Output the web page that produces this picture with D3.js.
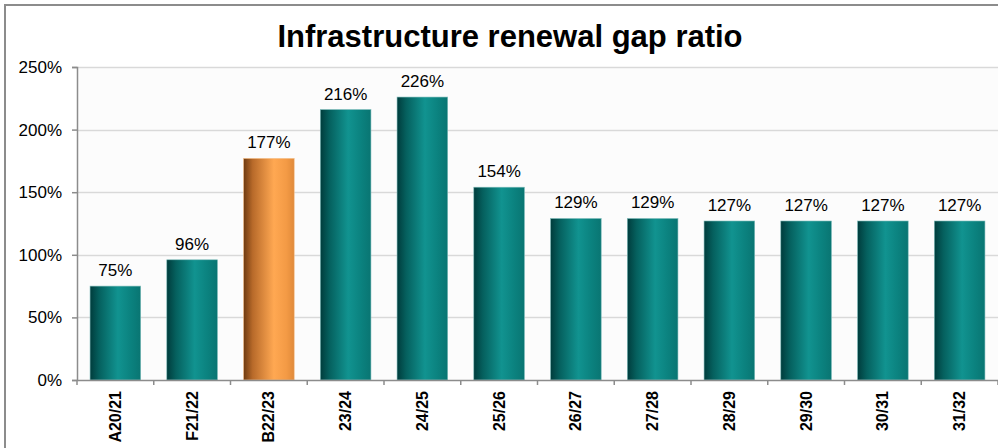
<!DOCTYPE html>
<html><head><meta charset="utf-8">
<script src="https://cdn.jsdelivr.net/npm/d3@7"></script>
<style>body{margin:0;background:#fff;}svg{display:block;font-family:"Liberation Sans",Arial,sans-serif;}</style>
</head><body>
<svg id="c" width="998" height="448"></svg>
<script>
const categories = ["A20/21","F21/22","B22/23","23/24","24/25","25/26","26/27","27/28","28/29","29/30","30/31","31/32"];
const values = [75,96,177,216,226,154,129,129,127,127,127,127];
const highlight = ["B22/23"];
const yTicks = [0,50,100,150,200,250];
const title = "Infrastructure renewal gap ratio";

const svg = d3.select("#c");
const m = {left:77, top:67, right:998, bottom:380};
const x = d3.scaleBand().domain(categories).range([m.left, m.right]).paddingInner(0.34).paddingOuter(0.17);
const y = d3.scaleLinear().domain([0,250]).range([m.bottom, m.top]);

const defs = svg.append("defs");
function grad(id, stops){
  const g = defs.append("linearGradient").attr("id",id).attr("x1","0").attr("x2","1").attr("y1","0").attr("y2","0");
  stops.forEach(s=>g.append("stop").attr("offset",s[0]).attr("stop-color",s[1]));
}
grad("gTeal", [[0,"#003c3c"],[0.18,"#05605e"],[0.55,"#119390"],[0.8,"#0b827f"],[1,"#097572"]]);
grad("gOrange", [[0,"#6e3a10"],[0.18,"#b86a2a"],[0.6,"#ffa852"],[0.85,"#f39a45"],[1,"#e08a3a"]]);

// outer frame
svg.append("rect").attr("x",5).attr("y",5).attr("width",1010).attr("height",460)
  .attr("fill","#fff").attr("stroke","#8c8c8c").attr("stroke-width",2);

// plot bg
svg.append("rect").attr("x",m.left).attr("y",m.top).attr("width",m.right-m.left).attr("height",m.bottom-m.top).attr("fill","#fcfcfc");

// grid
svg.append("g").selectAll("line").data(yTicks.filter(d=>d>0)).join("line")
  .attr("x1",m.left).attr("x2",m.right).attr("y1",d=>Math.round(y(d))+0.5).attr("y2",d=>Math.round(y(d))+0.5)
  .attr("stroke","#d9d9d9").attr("stroke-width",1.5);

// bars
svg.append("g").selectAll("rect").data(categories).join("rect")
  .attr("x",d=>x(d)).attr("width",x.bandwidth())
  .attr("y",(d,i)=>y(values[i])).attr("height",(d,i)=>y(0)-y(values[i]))
  .attr("fill",d=>highlight.includes(d)?"url(#gOrange)":"url(#gTeal)")
  .attr("stroke",d=>highlight.includes(d)?"#f5c08a":"#7fbdbb").attr("stroke-width",0.6);

// value labels
svg.append("g").selectAll("text").data(categories).join("text")
  .attr("x",d=>x(d)+x.bandwidth()/2).attr("y",(d,i)=>y(values[i])-10)
  .attr("text-anchor","middle").attr("font-size",17).attr("fill","#000")
  .text((d,i)=>values[i]+"%");

// y axis
const ya = svg.append("g").attr("transform",`translate(${m.left},0)`)
  .call(d3.axisLeft(y).tickValues(yTicks).tickFormat(d=>d+"%").tickSizeOuter(0).tickSize(5).tickPadding(10));
ya.select(".domain").attr("stroke","#8c8c8c").attr("stroke-width",1.5);
ya.selectAll(".tick line").attr("stroke","#8c8c8c").attr("stroke-width",1.5);
ya.selectAll("text").attr("font-size",17).attr("fill","#000").attr("font-family","Liberation Sans, Arial, sans-serif");

// x axis
const xa = svg.append("g").attr("transform",`translate(0,${m.bottom})`)
  .call(d3.axisBottom(x).tickSize(0).tickSizeOuter(0));
xa.select(".domain").attr("stroke","#8c8c8c").attr("stroke-width",1.5);
xa.selectAll(".tick line").remove();
// boundary ticks
const bounds = categories.map(c=>x(c)-x.step()*x.paddingInner()/2).concat([m.right]);
svg.append("g").selectAll("line").data(bounds).join("line")
  .attr("x1",d=>d).attr("x2",d=>d).attr("y1",m.bottom).attr("y2",m.bottom+5)
  .attr("stroke","#8c8c8c").attr("stroke-width",1.5);
xa.selectAll("text").attr("font-size",16).attr("font-weight","bold").attr("fill","#000")
  .attr("font-family","Liberation Sans, Arial, sans-serif")
  .attr("transform","rotate(-90)").attr("text-anchor","end")
  .attr("x",-11).attr("y",0).attr("dy","0.35em");

// title
svg.append("text").attr("x",510).attr("y",47).attr("text-anchor","middle")
  .attr("font-size",31).attr("font-weight","bold").attr("fill","#000").text(title);
</script>
</body></html>
